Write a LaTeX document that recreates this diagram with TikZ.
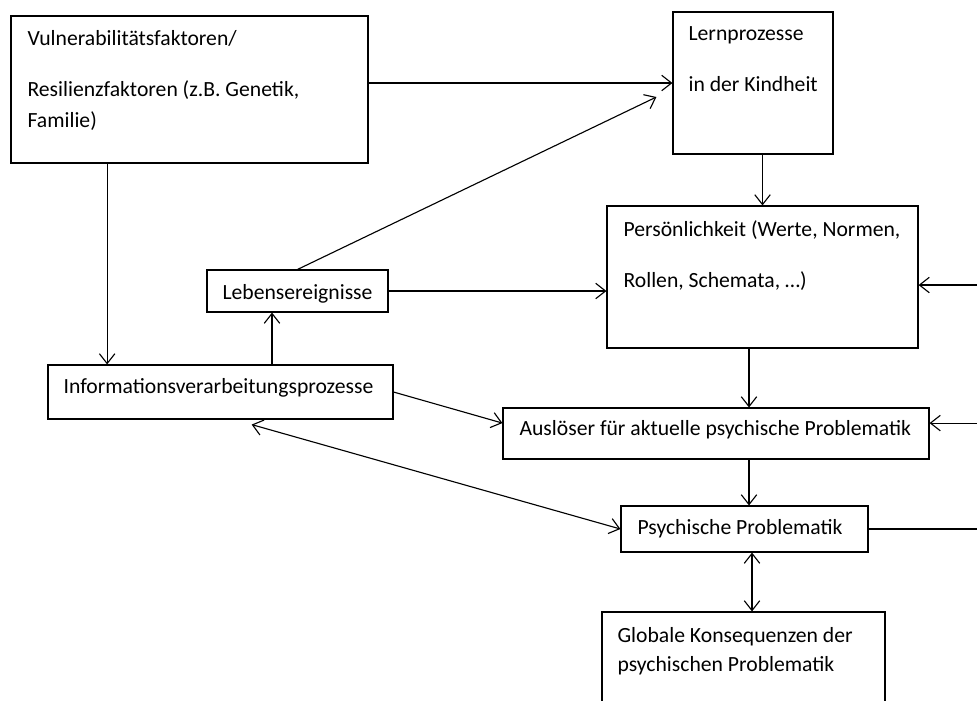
\documentclass[tikz,border=0pt]{standalone}
\usepackage{fontspec}
\setmainfont{Carlito}
\usetikzlibrary{arrows.meta,calc,fit}

\tikzset{
  kasten/.style={draw, inner sep=0pt},
  txt/.style={anchor=base west, inner sep=0pt, align=left, font=\fontsize{15.4pt}{22pt}\selectfont},
}

\begin{document}
\begin{tikzpicture}[x=0.025cm, y=-0.025cm, >={Straight Barb[length=7pt,width=11pt]}, line width=0.8pt]

\clip (0,0) rectangle (977,700);

% Kaesten
\node[kasten, fit={(11,16) (368,163)}] (vuln) {};
\node[kasten, fit={(673,12) (833,154)}] (lern) {};
\node[kasten, fit={(607,206) (918,348)}] (pers) {};
\node[kasten, fit={(207,270) (388,312)}] (leb) {};
\node[kasten, fit={(48,365) (393,419)}] (info) {};
\node[kasten, fit={(503,408) (929,459)}] (ausl) {};
\node[kasten, fit={(621,506) (868,552)}] (psych) {};
\node[kasten, fit={(602,612) (885,720)}] (glob) {};

% Texte (base = letzte Zeile)
\node[txt] (vulntxt) at (27,127) {Vulnerabilitätsfaktoren/\\[14pt]Resilienzfaktoren (z.B. Genetik,\\Familie)};
\node[txt] (lerntxt) at (688,91) {Lernprozesse\\[14pt]in der Kindheit};
\node[txt] (perstxt) at (623,287) {Persönlichkeit (Werte, Normen,\\[14pt]Rollen, Schemata, …)};
\node[txt] (lebtxt) at (222,299) {Lebensereignisse};
\node[txt] (infotxt) at (63,393) {Informationsverarbeitungsprozesse};
\node[txt] (ausltxt) at (519,435) {Auslöser für aktuelle psychische Problematik};
\node[txt] (psychtxt) at (637,534) {Psychische Problematik};
\node[txt] (globtxt) at (617,671) {Globale Konsequenzen der\\[-1.5pt]psychischen Problematik};

% Hilfspunkte
\coordinate (achse) at (749,0);
\coordinate (achse2) at (752,0);
\coordinate (rand) at (990,0);
\coordinate (vuln2) at ($(vuln.south west)!0.27!(vuln.south east)$);
\coordinate (leb2) at ($(leb.south west)!0.36!(leb.south east)$);
\coordinate (info2) at ($(info.south west)!0.59!(info.south east)$);
\coordinate (ausl2) at ($(ausl.north west)!0.3!(ausl.south west)$);
\coordinate (ausl3) at ($(ausl.north east)!0.3!(ausl.south east)$);
\coordinate (pers2) at ($(pers.north east)!0.556!(pers.south east)$);

% Pfeile
\draw[->] (vuln.east |- lern.west) -- (lern.west);
\draw[->] (leb.north) -- ($(lern.west)+(-16,14)$);
\draw[->] (pers.north |- lern.south) -- (pers.north);
\draw[->] (vuln2) -- (vuln2 |- info.north);
\draw[->] (leb.east) -- (leb.east -| pers.west);
\draw[->] (leb2 |- info.north) -- (leb2);
\draw[->] (achse |- pers.south) -- (achse |- ausl.north);
\draw[->] (info.east) -- (ausl2);
\draw[->] (achse |- ausl.south) -- (achse |- psych.north);
\draw[<->] ($(info2)+(0,5)$) -- (psych.west);
\draw[<->] (achse2 |- psych.south) -- (achse2 |- glob.north);
\draw[->] (psych.east) -- (rand |- psych.east) -- (rand |- pers2) -- (pers2);
\draw[->] (rand |- ausl3) -- (ausl3);

\end{tikzpicture}
\end{document}
